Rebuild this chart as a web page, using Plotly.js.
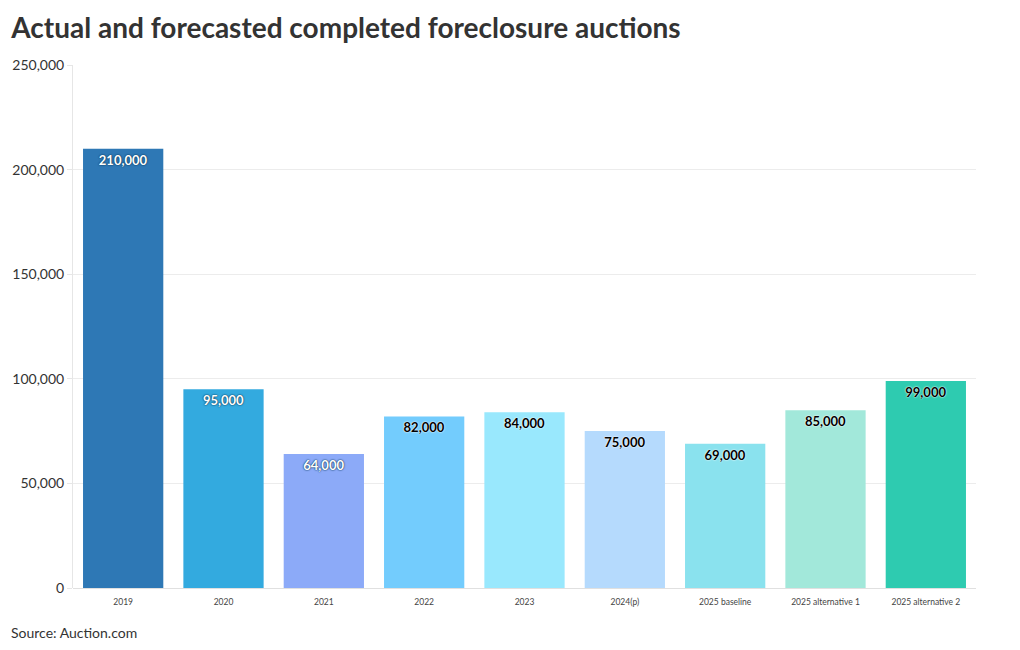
<!DOCTYPE html>
<html><head><meta charset="utf-8">
<script src="https://cdn.plot.ly/plotly-3.0.1.min.js"></script>
<style>body{margin:0;padding:0;background:#fff}#chart{width:1020px;height:650px}</style>
</head><body><div id="chart"></div>
<script>
const categories = ["2019","2020","2021","2022","2023","2024(p)","2025 baseline","2025 alternative 1","2025 alternative 2"];
const auctions = [210000,95000,64000,82000,84000,75000,69000,85000,99000];
const barColors = ["#2e78b5","#33aadf","#8caaf8","#73ccfd","#99e8fd","#b5dafd","#8ae2ee","#a2e8da","#2ecbb0"];
const labelColors = ["#ffffff","#ffffff","#ffffff","#000000","#000000","#000000","#000000","#000000","#000000"];
const labelShadows = labelColors.map(c => c === "#ffffff" ? "0px 0px 2px #0b3a5a, 0px 0px 1px #0b3a5a" : "0px 0px 2px #ffffff, 0px 0px 1px #ffffff");

const trace = {
  type: "bar",
  x: categories,
  y: auctions,
  marker: {color: barColors},
  text: auctions.map(v => v.toLocaleString("en-US")),
  textposition: "inside",
  insidetextanchor: "end",
  textangle: 0,
  textfont: {family: "Lato", size: 13, color: labelColors, weight: 700},
  hoverinfo: "x+y",
  cliponaxis: false
};

const layout = {
  width: 1020, height: 650,
  margin: {l: 73, r: 44, t: 65, b: 62},
  paper_bgcolor: "#fff", plot_bgcolor: "#fff",
  bargap: 0.2,
  font: {family: "Lato", color: "#333"},
  title: {text: "<b>Actual and forecasted completed foreclosure auctions</b>", x: 0.011, xanchor: "left", y: 0.957, yanchor: "middle", font: {family: "Lato", size: 28, color: "#333"}},
  xaxis: {type: "category", tickfont: {family: "Lato", size: 8.5, color: "#444"}, showline: false, ticks: "", showgrid: false, ticklabelstandoff: 7},
  yaxis: {range: [0, 250000], tickvals: [0,50000,100000,150000,200000,250000], ticktext: ["0","50,000","100,000","150,000","200,000","250,000"], tickfont: {family: "Lato", size: 14, color: "#333"}, gridcolor: "#ececec", showline: true, linecolor: "#e6e6e6", ticks: "outside", ticklen: 5, tickcolor: "#e6e6e6", zeroline: true, zerolinecolor: "#e0e0e0"},
  annotations: [{text: "Source: Auction.com", xref: "paper", yref: "paper", x: -0.071, y: -0.085, xanchor: "left", yanchor: "middle", showarrow: false, font: {family: "Lato", size: 14, color: "#333"}}],
  showlegend: false
};
Plotly.newPlot("chart", [trace], layout, {displayModeBar: false, staticPlot: true}).then(() => {
  document.querySelectorAll(".bartext").forEach((t, i) => {
    t.style.textShadow = labelShadows[i];
  });
});
</script></body></html>
